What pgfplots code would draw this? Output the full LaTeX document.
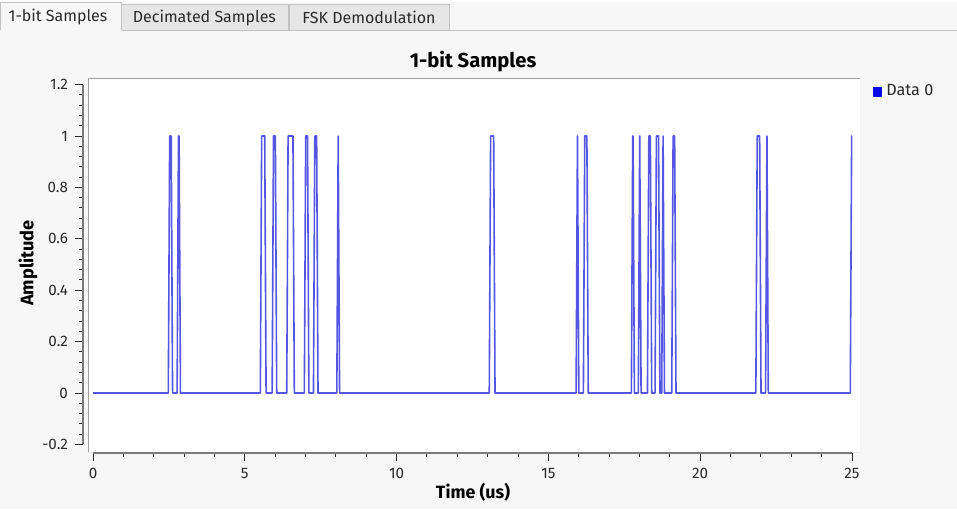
\documentclass[border=0pt]{standalone}
\usepackage{fontspec}
\setmainfont{Fira Sans}
\usepackage{pgfplots}
\pgfplotsset{compat=1.18}
\definecolor{panelbg}{HTML}{F7F7F7}
\definecolor{tabbg}{HTML}{E6E6E6}
\definecolor{tabborder}{HTML}{C2C2C2}
\definecolor{txt}{HTML}{2A2A2A}
\definecolor{sigblue}{RGB}{85,85,228}
\definecolor{legblue}{RGB}{10,10,230}
\definecolor{scalegray}{HTML}{7A7A7A}
\begin{document}
\begin{tikzpicture}
\useasboundingbox (0,0) rectangle (478.5pt,-254.5pt);
% window background
\fill[panelbg] (0,0) rectangle (478.5pt,-254.5pt);
\fill[white] (0,0) rectangle (478.5pt,-1pt);
% tabs
\draw[tabborder,fill=tabbg] (60.5pt,-15pt) -- (60.5pt,-2pt) -- (144pt,-2pt) -- (144pt,-15pt);
\draw[tabborder,fill=tabbg] (144.5pt,-15pt) -- (144.5pt,-2pt) -- (224.5pt,-2pt) -- (224.5pt,-15pt);
\draw[tabborder,fill=panelbg] (0.3pt,-15pt) -- (0.3pt,-1pt) -- (60.5pt,-1pt) -- (60.5pt,-15pt);
\draw[tabborder] (60.5pt,-15pt) -- (478.5pt,-15pt);
\node[txt,font=\fontsize{8.0}{9}\selectfont] at (29pt,-8.3pt) {1-bit Samples};
\node[txt,font=\fontsize{8.0}{9}\selectfont] at (102.2pt,-8.8pt) {Decimated Samples};
\node[txt,font=\fontsize{8.0}{9}\selectfont] at (184.5pt,-8.8pt) {FSK Demodulation};
% title and axis labels
\node[black,font=\fontsize{10.1}{12}\selectfont\bfseries] at (236.5pt,-31pt) {1-bit Samples};
\node[black,font=\fontsize{9.1}{11}\selectfont\bfseries,rotate=90] at (14pt,-131.5pt) {Amplitude};
\node[black,font=\fontsize{8.9}{11}\selectfont\bfseries] at (236.5pt,-246pt) {Time (us)};
% main canvas with data
\begin{axis}[
  at={(44pt,-226pt)}, anchor=south west,
  scale only axis, width=386pt, height=187pt,
  xmin=-0.165, xmax=25.26, ymin=-0.2296, ymax=1.2257,
  xtick=\empty, ytick=\empty,
  axis line style={draw=none},
  axis background/.style={fill=white},
  clip=true,
  legend style={at={(1.016,0.963)}, anchor=west, draw=none, fill=none,
    font=\fontsize{8.1}{9}\selectfont\color{txt}, inner sep=0pt,
    /tikz/every even column/.append style={column sep=2pt}},
  legend cell align=left,
  legend image code/.code={\fill[legblue] (0pt,-2pt) rectangle (4pt,2pt);},
]
\draw[gray!75,line width=0.9pt] (rel axis cs:0,0) -- (rel axis cs:0,1) -- (rel axis cs:1,1);
\draw[gray!15,line width=0.5pt] (rel axis cs:1,1) -- (rel axis cs:1,0) -- (rel axis cs:0,0);
\addplot[sigblue, line width=0.8pt, line join=round] coordinates {
(0,0)
(2.48,0)(2.525,1)(2.575,1)(2.62,0)
(2.77,0)(2.815,1)(2.835,1)(2.88,0)
(5.51,0)(5.555,1)(5.655,1)(5.70,0)
(5.90,0)(5.945,1)(6.005,1)(6.05,0)
(6.38,0)(6.425,1)(6.585,1)(6.63,0)
(6.96,0)(7.005,1)(7.065,1)(7.11,0)
(7.26,0)(7.305,1)(7.365,1)(7.41,0)
(8.03,0)(8.075,1)(8.12,0)
(13.05,0)(13.095,1)(13.195,1)(13.24,0)
(15.91,0)(15.955,1)(16.00,0)
(16.15,0)(16.195,1)(16.265,1)(16.31,0)
(17.73,0)(17.775,1)(17.785,1)(17.83,0)
(17.96,0)(18.005,1)(18.05,0)
(18.26,0)(18.305,1)(18.355,1)(18.40,0)
(18.51,0)(18.555,1)(18.625,1)(18.67,0)
(18.73,0)(18.775,1)(18.82,0)
(19.06,0)(19.105,1)(19.155,1)(19.20,0)
(21.83,0)(21.875,1)(21.955,1)(22.00,0)
(22.15,0)(22.195,1)(22.24,0)
(24.94,0)(24.985,1)(25,1)
};
\addlegendentry{Data 0}
\end{axis}
% x scale
\begin{axis}[
  at={(46.5pt,-226.5pt)}, anchor=south west,
  scale only axis, width=379.5pt, height=1pt,
  xmin=0, xmax=25, ymin=0, ymax=1,
  axis x line*=bottom, axis y line=none,
  axis line style={scalegray, line width=0.6pt},
  xtick={0,5,10,15,20,25},
  xticklabels={0,5,10,15,20,25},
  minor x tick num=4,
  tick align=outside,
  major tick length=4pt, minor tick length=2pt,
  tick style={txt, line width=0.5pt},
  xticklabel style={font=\fontsize{7.6}{9}\selectfont, text=txt, yshift=-0.3pt},
]
\addplot[draw=none] coordinates {(0,0)};
\end{axis}
% y scale
\begin{axis}[
  at={(41.5pt,-222.2pt)}, anchor=south west,
  scale only axis, width=1pt, height=179.9pt,
  xmin=0, xmax=1, ymin=-0.2, ymax=1.2,
  axis y line*=left, axis x line=none,
  axis line style={scalegray, line width=0.6pt},
  ytick={-0.2,0,0.2,0.4,0.6,0.8,1,1.2},
  yticklabels={-0.2,0,0.2,0.4,0.6,0.8,1,1.2},
  minor y tick num=4,
  tick align=outside,
  major tick length=4pt, minor tick length=2pt,
  tick style={txt, line width=0.5pt},
  yticklabel style={font=\fontsize{7.6}{9}\selectfont, text=txt},
]
\addplot[draw=none] coordinates {(0,0)};
\end{axis}
\end{tikzpicture}
\end{document}
